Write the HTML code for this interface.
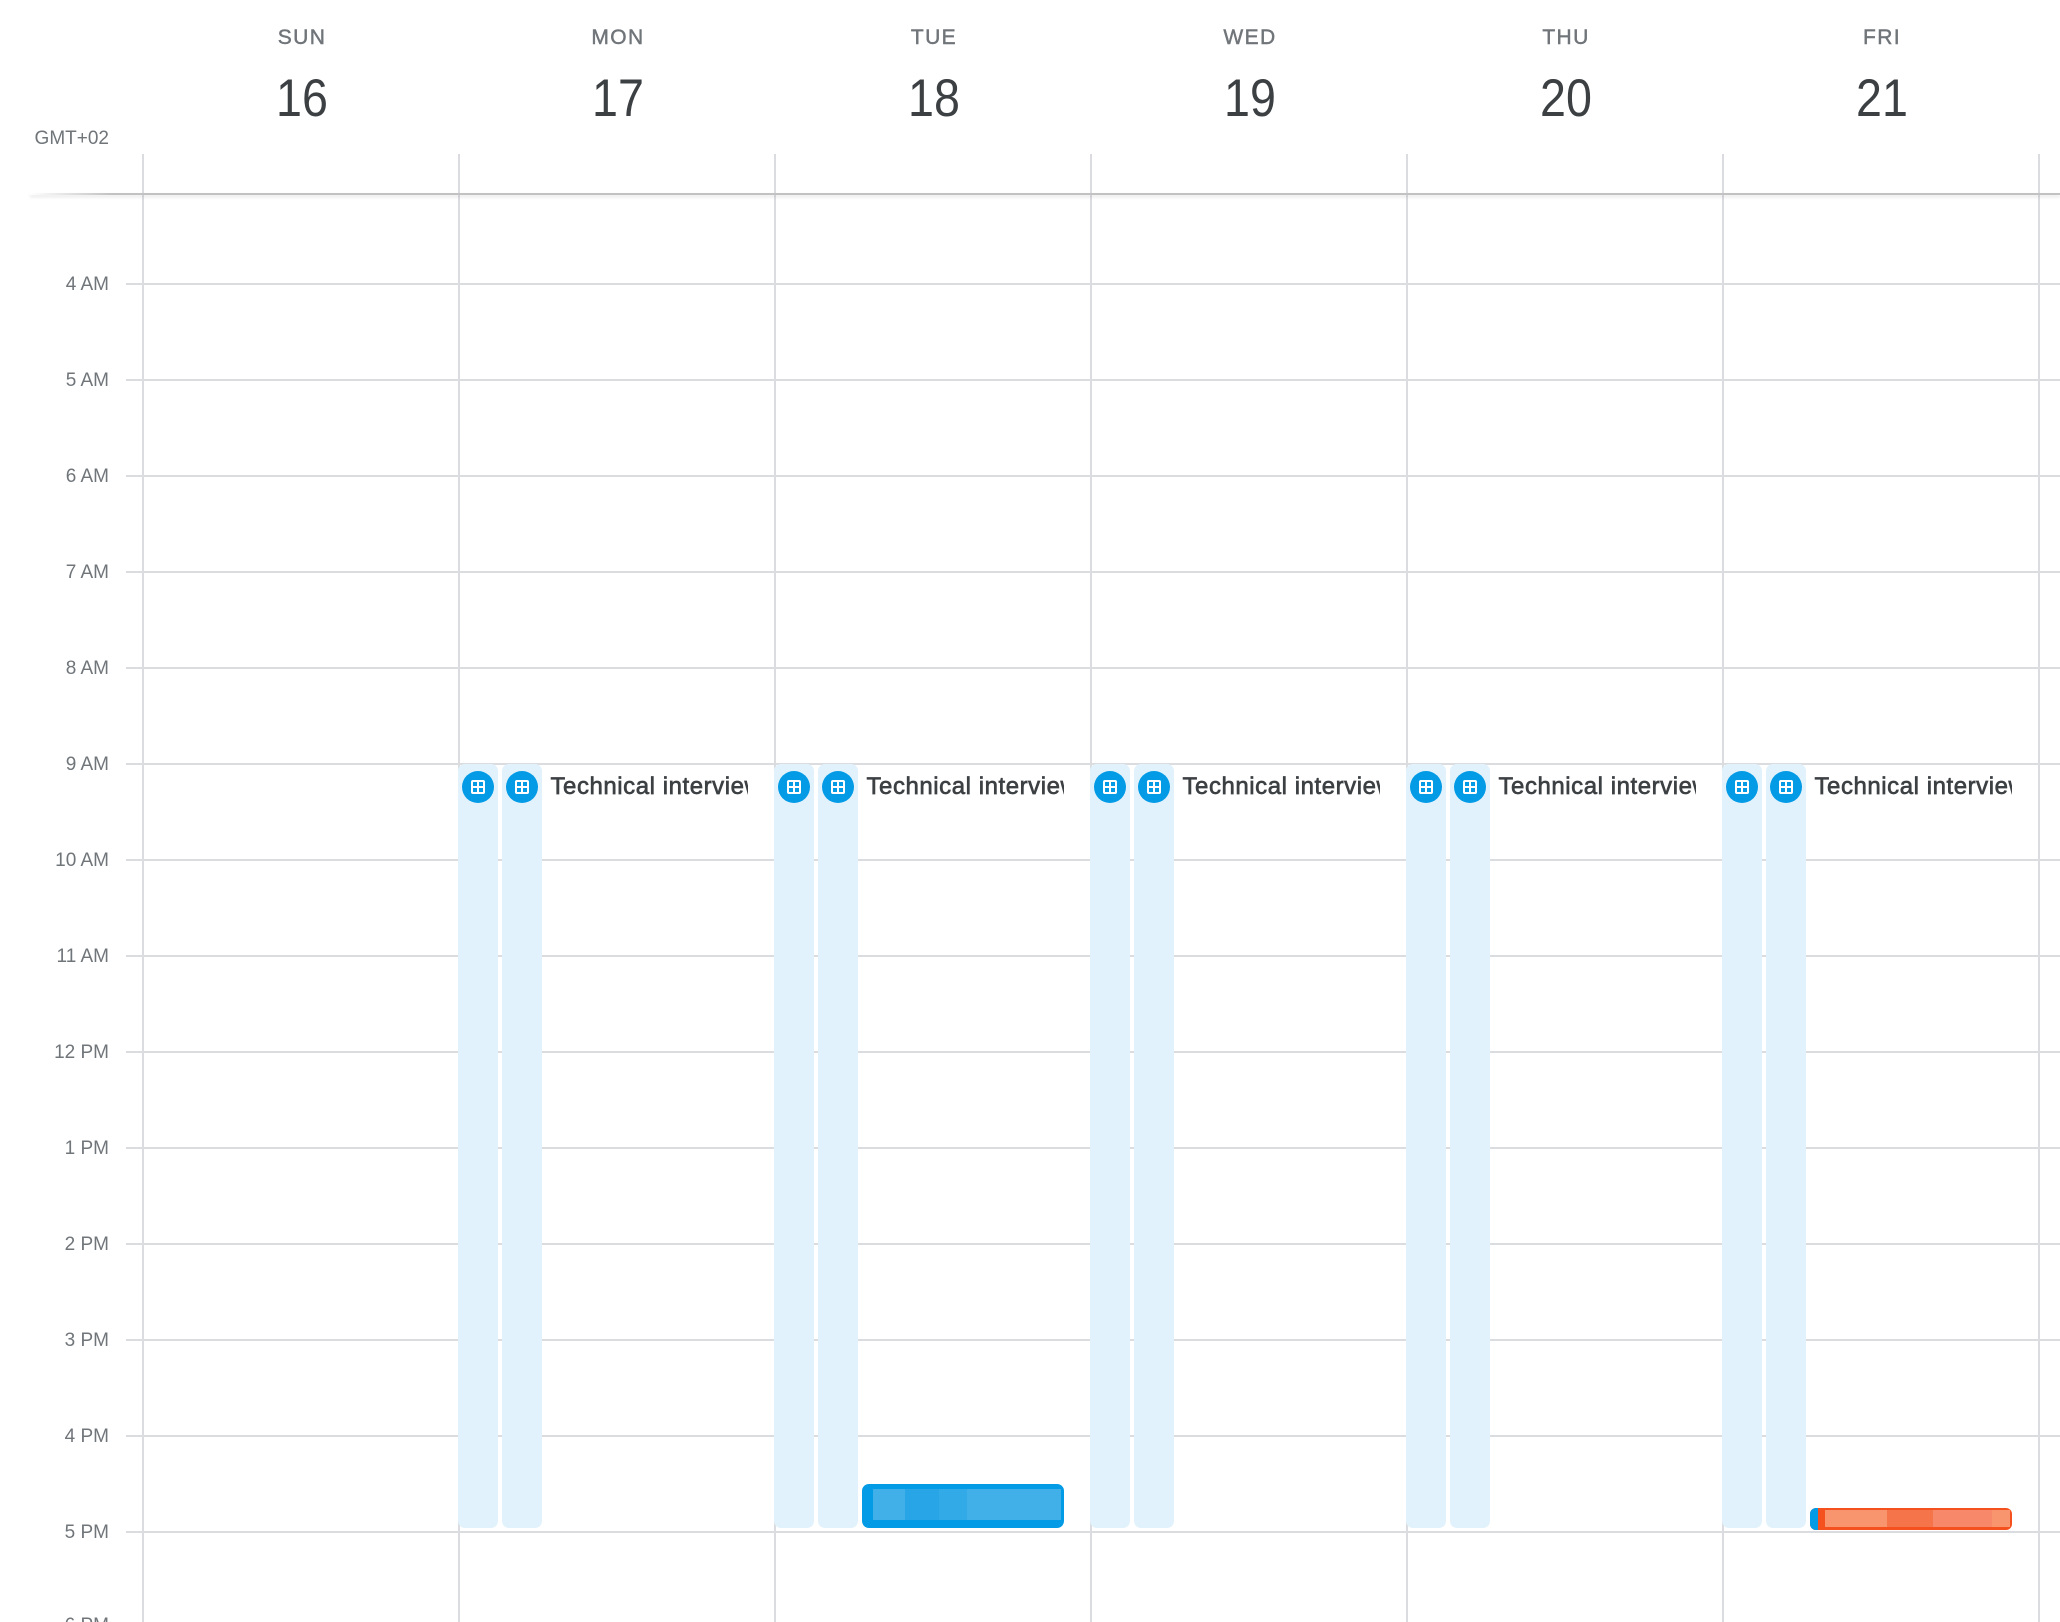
<!DOCTYPE html>
<html><head><meta charset="utf-8"><style>
html,body{margin:0;padding:0;background:#fff;overflow:hidden;width:2060px;height:1622px;}
#wrap{position:relative;width:2060px;height:1622px;overflow:hidden;font-family:"Liberation Sans",Arial,sans-serif;background:#fff;}
#wrap div{position:absolute;box-sizing:border-box;}
.vl{width:2px;top:154px;height:1468px;background:#dadce0;}
.hl{left:126px;width:1934px;height:2px;background:#dadce0;}
.tl{left:0;width:109px;text-align:right;font-size:19px;line-height:24px;height:24px;color:#70757a;white-space:nowrap;}
.dn{width:200px;text-align:center;font-size:21px;line-height:30px;letter-spacing:1.4px;color:#70757a;top:23px;-webkit-text-stroke:0.45px #70757a;}
.dd{width:200px;text-align:center;font-size:53px;line-height:60px;color:#3c4043;top:69px;transform:scaleX(0.88);}
.nc{top:764px;height:764px;width:40px;background:#e1f2fc;border-radius:7px;}
.ic{top:770.5px;width:32px;height:32px;border-radius:50%;background:#039be5;}
.ic .w{left:9px;top:9px;width:14px;height:14px;background:#fff;border-radius:2px;}
.ic .s{width:4px;height:4px;background:#039be5;}
.ev{top:772px;height:30px;width:203px;overflow:hidden;}
.ev span{position:absolute;left:6px;top:0;font-size:24px;line-height:30px;color:#3c4043;white-space:nowrap;-webkit-text-stroke:0.65px #3c4043;letter-spacing:0.55px;}
</style></head><body><div id="wrap">

<!-- header -->
<div class="dn" style="left:202px">SUN</div>
<div class="dn" style="left:518px">MON</div>
<div class="dn" style="left:834px">TUE</div>
<div class="dn" style="left:1150px">WED</div>
<div class="dn" style="left:1466px">THU</div>
<div class="dn" style="left:1782px">FRI</div>

<div class="dd" style="left:202px">16</div>
<div class="dd" style="left:518px">17</div>
<div class="dd" style="left:834px">18</div>
<div class="dd" style="left:1150px">19</div>
<div class="dd" style="left:1466px">20</div>
<div class="dd" style="left:1782px">21</div>

<div class="tl" style="top:126.5px">GMT+02</div>

<!-- vertical lines -->
<div class="vl" style="left:141.5px"></div>
<div class="vl" style="left:457.5px"></div>
<div class="vl" style="left:773.5px"></div>
<div class="vl" style="left:1089.5px"></div>
<div class="vl" style="left:1405.5px"></div>
<div class="vl" style="left:1721.5px"></div>
<div class="vl" style="left:2037.5px"></div>

<!-- top border -->
<div style="left:30px;top:193px;width:2030px;height:2px;background:linear-gradient(to right,rgba(190,190,190,0),#c2c2c2 80px);box-shadow:0 2px 3px rgba(0,0,0,0.12);"></div>

<!-- hour lines -->
<div class="hl" style="top:283.3px"></div>
<div class="hl" style="top:379.3px"></div>
<div class="hl" style="top:475.3px"></div>
<div class="hl" style="top:571.3px"></div>
<div class="hl" style="top:667.3px"></div>
<div class="hl" style="top:763.3px"></div>
<div class="hl" style="top:859.3px"></div>
<div class="hl" style="top:955.3px"></div>
<div class="hl" style="top:1051.3px"></div>
<div class="hl" style="top:1147.3px"></div>
<div class="hl" style="top:1243.3px"></div>
<div class="hl" style="top:1339.3px"></div>
<div class="hl" style="top:1435.3px"></div>
<div class="hl" style="top:1531.3px"></div>

<!-- time labels -->
<div class="tl" style="top:272.5px">4 AM</div>
<div class="tl" style="top:368.5px">5 AM</div>
<div class="tl" style="top:464.5px">6 AM</div>
<div class="tl" style="top:560.5px">7 AM</div>
<div class="tl" style="top:656.5px">8 AM</div>
<div class="tl" style="top:752.5px">9 AM</div>
<div class="tl" style="top:848.5px">10 AM</div>
<div class="tl" style="top:944.5px">11 AM</div>
<div class="tl" style="top:1040.5px">12 PM</div>
<div class="tl" style="top:1136.5px">1 PM</div>
<div class="tl" style="top:1232.5px">2 PM</div>
<div class="tl" style="top:1328.5px">3 PM</div>
<div class="tl" style="top:1424.5px">4 PM</div>
<div class="tl" style="top:1520.5px">5 PM</div>
<div class="tl" style="top:1614px">6 PM</div>

<!-- MON L=458.5 -->
<div class="nc" style="left:458px"></div>
<div class="nc" style="left:502px"></div>
<div class="ic" style="left:462px"><div class="w"><div class="s" style="left:2px;top:2px"></div><div class="s" style="left:8px;top:2px"></div><div class="s" style="left:2px;top:8px"></div><div class="s" style="left:8px;top:8px"></div></div></div>
<div class="ic" style="left:506px"><div class="w"><div class="s" style="left:2px;top:2px"></div><div class="s" style="left:8px;top:2px"></div><div class="s" style="left:2px;top:8px"></div><div class="s" style="left:8px;top:8px"></div></div></div>
<div class="ev" style="left:544.5px"><span>Technical interview</span></div>

<!-- TUE L=774.5 -->
<div class="nc" style="left:774px"></div>
<div class="nc" style="left:818px"></div>
<div class="ic" style="left:778px"><div class="w"><div class="s" style="left:2px;top:2px"></div><div class="s" style="left:8px;top:2px"></div><div class="s" style="left:2px;top:8px"></div><div class="s" style="left:8px;top:8px"></div></div></div>
<div class="ic" style="left:822px"><div class="w"><div class="s" style="left:2px;top:2px"></div><div class="s" style="left:8px;top:2px"></div><div class="s" style="left:2px;top:8px"></div><div class="s" style="left:8px;top:8px"></div></div></div>
<div class="ev" style="left:860.5px"><span>Technical interview</span></div>

<!-- WED L=1090.5 -->
<div class="nc" style="left:1090px"></div>
<div class="nc" style="left:1134px"></div>
<div class="ic" style="left:1094px"><div class="w"><div class="s" style="left:2px;top:2px"></div><div class="s" style="left:8px;top:2px"></div><div class="s" style="left:2px;top:8px"></div><div class="s" style="left:8px;top:8px"></div></div></div>
<div class="ic" style="left:1138px"><div class="w"><div class="s" style="left:2px;top:2px"></div><div class="s" style="left:8px;top:2px"></div><div class="s" style="left:2px;top:8px"></div><div class="s" style="left:8px;top:8px"></div></div></div>
<div class="ev" style="left:1176.5px"><span>Technical interview</span></div>

<!-- THU L=1406.5 -->
<div class="nc" style="left:1406px"></div>
<div class="nc" style="left:1450px"></div>
<div class="ic" style="left:1410px"><div class="w"><div class="s" style="left:2px;top:2px"></div><div class="s" style="left:8px;top:2px"></div><div class="s" style="left:2px;top:8px"></div><div class="s" style="left:8px;top:8px"></div></div></div>
<div class="ic" style="left:1454px"><div class="w"><div class="s" style="left:2px;top:2px"></div><div class="s" style="left:8px;top:2px"></div><div class="s" style="left:2px;top:8px"></div><div class="s" style="left:8px;top:8px"></div></div></div>
<div class="ev" style="left:1492.5px"><span>Technical interview</span></div>

<!-- FRI L=1722.5 -->
<div class="nc" style="left:1722px"></div>
<div class="nc" style="left:1766px"></div>
<div class="ic" style="left:1726px"><div class="w"><div class="s" style="left:2px;top:2px"></div><div class="s" style="left:8px;top:2px"></div><div class="s" style="left:2px;top:8px"></div><div class="s" style="left:8px;top:8px"></div></div></div>
<div class="ic" style="left:1770px"><div class="w"><div class="s" style="left:2px;top:2px"></div><div class="s" style="left:8px;top:2px"></div><div class="s" style="left:2px;top:8px"></div><div class="s" style="left:8px;top:8px"></div></div></div>
<div class="ev" style="left:1808.5px"><span>Technical interview</span></div>

<!-- TUE blue bar -->
<div style="left:862px;top:1484px;width:202px;height:44px;background:#039be5;border-radius:7px;"></div>
<div style="left:873px;top:1489px;width:188px;height:31px;background:#41b0e9;"></div>
<div style="left:905px;top:1489px;width:34px;height:31px;background:#27a5e6;"></div>
<div style="left:939px;top:1489px;width:28px;height:31px;background:#32aae7;"></div>

<!-- FRI orange bar -->
<div style="left:1810px;top:1508px;width:202px;height:22px;background:#f4511e;border-radius:6px;"></div>
<div style="left:1810px;top:1508px;width:8px;height:22px;background:#039be5;border-radius:6px 0 0 6px;"></div>
<div style="left:1825px;top:1510px;width:185px;height:17px;background:#f8956f;"></div>
<div style="left:1887px;top:1510px;width:46px;height:17px;background:#f5744a;"></div>
<div style="left:1933px;top:1510px;width:59px;height:17px;background:#f7896a;"></div>

</div></body></html>
